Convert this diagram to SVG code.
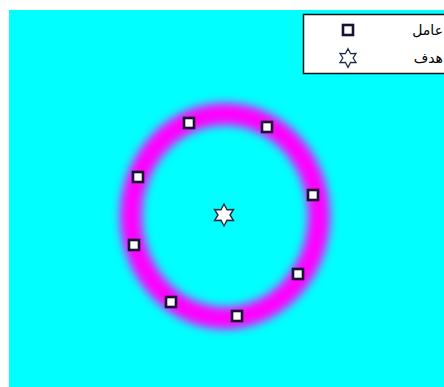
<svg xmlns="http://www.w3.org/2000/svg" width="444" height="387" viewBox="0 0 444 387">
<style>
.agent{fill:#ffffff;stroke:#1a1030;stroke-width:2.6}
.target{fill:#ffffff;stroke:#1a2a40;stroke-width:1.4;stroke-linejoin:miter}
.lbl{font-family:"DejaVu Sans","Noto Sans",sans-serif;font-size:14px;fill:#000}
</style>
<defs>
<filter id="blur" x="-30%" y="-30%" width="160%" height="160%"><feGaussianBlur stdDeviation="5"/></filter>
<rect id="sq" x="-5" y="-5" width="10" height="10" class="agent"/>
<polygon id="star" points="0,-11 3,-5.2 9.5,-5.5 6,0 9.5,5.5 3,5.2 0,11 -3,5.2 -9.5,5.5 -6,0 -9.5,-5.5 -3,-5.2" class="target"/>
</defs>
<rect x="0" y="0" width="444" height="387" fill="#ffffff"/>
<rect x="9" y="10" width="435" height="377" fill="#00ffff"/>
<g id="ring">
<ellipse cx="225" cy="216" rx="94" ry="102" fill="none" stroke="#ff00ff" stroke-width="22" filter="url(#blur)"/>
</g>
<g id="connectors"></g>
<g id="agent1"><use href="#sq" x="189" y="123"/></g>
<g id="agent2"><use href="#sq" x="267" y="127"/></g>
<g id="agent3"><use href="#sq" x="138" y="177"/></g>
<g id="agent4"><use href="#sq" x="313" y="195"/></g>
<g id="agent5"><use href="#sq" x="134" y="245"/></g>
<g id="agent6"><use href="#sq" x="298" y="274"/></g>
<g id="agent7"><use href="#sq" x="171" y="302"/></g>
<g id="agent8"><use href="#sq" x="237" y="316"/></g>
<g id="target"><use href="#star" x="224" y="215"/></g>
<g id="legend">
<rect x="303.5" y="14.5" width="150" height="59" fill="#ffffff" stroke="#111" stroke-width="1.5"/>
<use href="#sq" x="348" y="30"/>
<use href="#star" x="348" y="58" transform="translate(348 58) scale(0.85) translate(-348 -58)"/>
<text class="lbl" x="443" y="35" text-anchor="end">عامل</text>
<text class="lbl" x="443" y="63" text-anchor="end">هدف</text>
</g>
</svg>
